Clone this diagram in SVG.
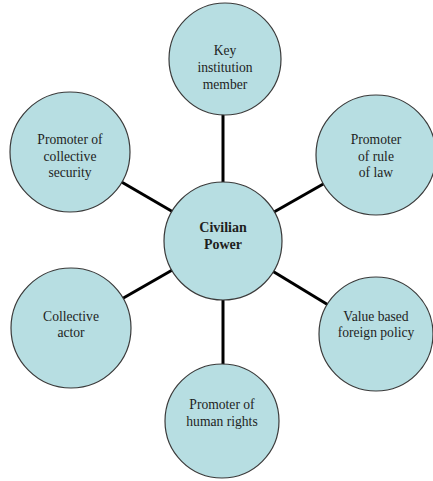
<svg xmlns="http://www.w3.org/2000/svg" width="433" height="481" viewBox="0 0 433 481">
<style>
.n circle{fill:#b7dee2;stroke:#3a3a3a;stroke-width:1.2}
.n text{font-family:"Liberation Serif","Times New Roman",serif;font-size:13.6px;fill:#1e1e1e;text-anchor:middle}
.n text.b{font-weight:bold;font-size:14px}
#connectors line{stroke:#000;stroke-width:3}
</style>
<rect width="433" height="481" fill="#fff"/>
<g id="connectors">
<line x1="223" y1="241" x2="223" y2="59"/>
<line x1="223" y1="241" x2="70" y2="152"/>
<line x1="223" y1="241" x2="376" y2="154"/>
<line x1="223" y1="241" x2="376" y2="334"/>
<line x1="223" y1="241" x2="71" y2="328"/>
<line x1="223" y1="241" x2="223" y2="421"/>
</g>
<g id="key-institution" class="n">
<circle cx="225" cy="59" r="56"/>
<text x="225" y="55">Key</text>
<text x="225" y="72">institution</text>
<text x="225" y="89">member</text>
</g>
<g id="collective-security" class="n">
<circle cx="70" cy="152" r="60"/>
<text x="70" y="144">Promoter of</text>
<text x="70" y="161">collective</text>
<text x="70" y="177">security</text>
</g>
<g id="rule-of-law" class="n">
<circle cx="376" cy="155" r="60"/>
<text x="376" y="144">Promoter</text>
<text x="376" y="161">of rule</text>
<text x="376" y="177">of law</text>
</g>
<g id="civilian-power" class="n">
<circle cx="223" cy="241" r="59"/>
<text class="b" x="223" y="232">Civilian</text>
<text class="b" x="223" y="249">Power</text>
</g>
<g id="value-based" class="n">
<circle cx="376" cy="334" r="57"/>
<text x="376" y="321">Value based</text>
<text x="376" y="337">foreign policy</text>
</g>
<g id="collective-actor" class="n">
<circle cx="71" cy="328" r="60"/>
<text x="71" y="321">Collective</text>
<text x="71" y="337">actor</text>
</g>
<g id="human-rights" class="n">
<circle cx="222" cy="421" r="57"/>
<text x="222" y="409">Promoter of</text>
<text x="222" y="426">human rights</text>
</g>
</svg>
